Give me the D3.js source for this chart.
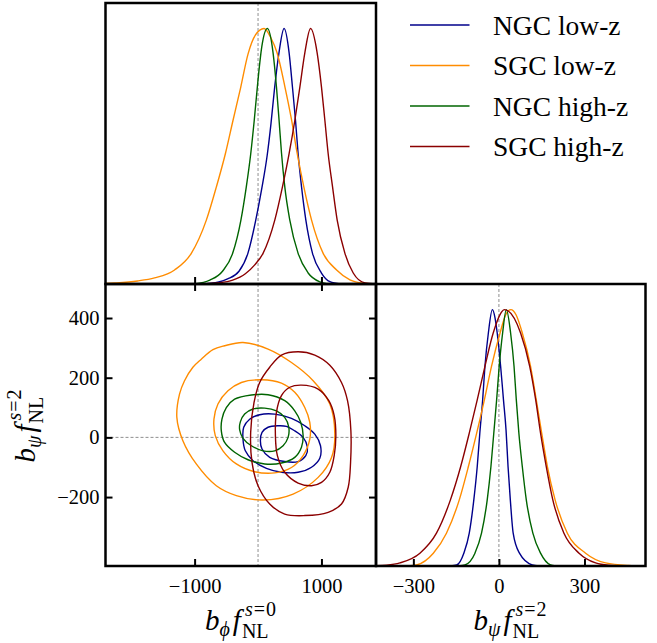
<!DOCTYPE html>
<html>
<head>
<meta charset="utf-8">
<script src="https://cdn.jsdelivr.net/npm/d3@7"></script>
<style>
  html, body { margin: 0; padding: 0; background: #fff; }
  svg { display: block; font-family: "Liberation Serif", "DejaVu Serif", serif; }
  svg text { font-family: "Liberation Serif", "DejaVu Serif", serif; }
</style>
</head>
<body>
<svg id="chart" width="657" height="643"></svg>
<script>
// ---- samples ---------------------------------------------------------------
const seriesNames = ["NGC low-z", "SGC low-z", "NGC high-z", "SGC high-z"];
const seriesColors = ["#00008b", "#ff8c00", "#006400", "#8b0000"];

// parameter ranges shown on the axes
const phiRange = [-2405, 1860];
const psiRange = [-431, 514];

// tick values and labels
const phiTicks = [-1000, 1000];
const phiTickLabels = ["\u22121000", "1000"];
const psiTicksY = [-200, 0, 200, 400];
const psiTickLabelsY = ["\u2212200", "0", "200", "400"];
const psiTicksX = [-300, 0, 300];
const psiTickLabelsX = ["\u2212300", "0", "300"];

// 1D marginals of b_phi f_NL^{s=0}: [value, density / peak]
const phiNGClow = [[-900,0],[-620,0.008],[-480,0.02],[-300,0.05],[-160,0.12],[-40,0.245],[60,0.375],[145,0.505],[205,0.63],[260,0.765],[330,0.905],[411,1.0],[490,0.905],[543,0.77],[591,0.64],[632,0.51],[686,0.38],[754,0.25],[859,0.12],[1000,0.043],[1133,0.009],[1300,0]];
const phiSGClow = [[-2405,0.002],[-2264,0.004],[-1900,0.012],[-1632,0.024],[-1316,0.055],[-1052,0.12],[-815,0.25],[-657,0.38],[-515,0.51],[-395,0.64],[-273,0.77],[-158,0.9],[-40,0.975],[95,1.0],[200,0.965],[300,0.905],[422,0.774],[528,0.643],[616,0.513],[722,0.38],[844,0.25],[1027,0.12],[1239,0.055],[1449,0.016],[1654,0.003],[1860,0]];
const phiNGChigh = [[-1000,0],[-760,0.015],[-560,0.05],[-400,0.12],[-270,0.25],[-185,0.38],[-115,0.51],[-60,0.64],[0,0.8],[60,0.93],[148,1.0],[237,0.905],[291,0.77],[332,0.64],[370,0.513],[422,0.38],[501,0.25],[632,0.12],[790,0.043],[975,0.008],[1100,0]];
const phiSGChigh = [[-900,0],[-640,0.004],[-400,0.015],[-200,0.04],[-52,0.075],[79,0.12],[264,0.25],[385,0.38],[490,0.51],[580,0.64],[659,0.77],[738,0.905],[828,1.0],[932,0.905],[1001,0.77],[1054,0.64],[1106,0.51],[1175,0.38],[1248,0.25],[1370,0.12],[1501,0.043],[1686,0.004],[1860,0]];

// 1D marginals of b_psi f_NL^{s=2}: [value, density / peak]
const psiNGClow = [[-170,0],[-148,0.004],[-123,0.05],[-104,0.128],[-88,0.258],[-76,0.388],[-67,0.518],[-57,0.648],[-49,0.779],[-37,0.909],[-23,1.0],[-14,0.97],[-6,0.909],[6,0.779],[16,0.648],[25,0.53],[32,0.388],[40,0.258],[50,0.128],[72,0.05],[117,0.004],[140,0]];
const psiSGClow = [[-320,0],[-289,0.004],[-230,0.05],[-184,0.128],[-139,0.258],[-107,0.388],[-78,0.518],[-51,0.648],[-26,0.779],[4,0.909],[22,0.975],[42,1.0],[60,0.98],[82,0.909],[111,0.779],[131,0.648],[150,0.518],[170,0.388],[197,0.258],[240,0.128],[304,0.05],[374,0.012],[455,0.002],[514,0]];
const psiNGChigh = [[-140,0],[-119,0.004],[-84,0.05],[-61,0.128],[-41,0.258],[-28,0.388],[-18,0.518],[-8,0.648],[1,0.779],[13,0.909],[26,1.0],[41,0.909],[53,0.779],[61,0.648],[70,0.518],[82,0.388],[96,0.258],[119,0.128],[146,0.05],[181,0.004],[200,0]];
const psiSGChigh = [[-431,0.001],[-394,0.003],[-347,0.012],[-277,0.05],[-219,0.128],[-170,0.258],[-134,0.388],[-104,0.518],[-76,0.648],[-49,0.779],[-20,0.909],[20,1.0],[76,0.909],[108,0.779],[129,0.648],[146,0.518],[166,0.388],[189,0.258],[228,0.128],[281,0.05],[339,0.012],[385,0.003],[450,0]];

// 2D credible contours: [b_phi f_NL^{s=0}, b_psi f_NL^{s=2}]
const contNGClow68 = [[316,39],[158,34],[63,17],[37,-11],[63,-39],[184,-67],[421,-81],[632,-81],[753,-61],[779,-33],[711,0],[579,22],[448,37]];
const contNGClow95 = [[263,78],[26,76],[-132,61],[-226,34],[-237,-6],[-200,-45],[-79,-78],[132,-104],[369,-117],[632,-117],[843,-100],[974,-70],[985,-28],[895,11],[737,39],[527,64]];
const contSGClow68 = [[53,193],[-263,184],[-474,156],[-632,112],[-695,61],[-674,6],[-553,-45],[-342,-89],[-53,-115],[263,-119],[527,-101],[711,-61],[816,-6],[816,50],[737,100],[579,151],[369,182]];
const contSGClow95 = [[-237,318],[-527,307],[-711,294],[-895,262],[-1027,235],[-1159,190],[-1238,145],[-1280,67],[-1185,-11],[-974,-89],[-658,-162],[-342,-195],[79,-210],[553,-190],[948,-134],[1159,-67],[1211,11],[1132,112],[869,190],[527,251],[158,296]];
const contNGChigh68 = [[105,98],[-79,95],[-211,78],[-279,52],[-290,26],[-237,-3],[-105,-28],[79,-45],[263,-45],[395,-28],[474,0],[485,34],[421,67],[290,89]];
const contNGChigh95 = [[158,143],[-105,142],[-369,128],[-500,100],[-569,61],[-579,22],[-527,-17],[-369,-50],[-158,-75],[105,-89],[369,-86],[579,-67],[685,-33],[711,6],[674,50],[579,89],[421,123]];
const contSGChigh68 = [[685,175],[500,168],[369,140],[290,84],[274,6],[305,-61],[421,-117],[632,-153],[843,-162],[1001,-151],[1132,-117],[1201,-61],[1227,6],[1201,73],[1116,123],[948,162]];
const contSGChigh95 = [[632,287],[369,276],[184,235],[26,184],[-63,117],[-116,17],[-95,-84],[0,-162],[184,-223],[421,-257],[737,-262],[1106,-251],[1316,-223],[1422,-167],[1459,-84],[1464,22],[1411,123],[1316,184],[1132,242],[895,276]];

const phiMarginals = [phiNGClow, phiSGClow, phiNGChigh, phiSGChigh];
const psiMarginals = [psiNGClow, psiSGClow, psiNGChigh, psiSGChigh];
const contours = [
  [contNGClow68, contNGClow95],
  [contSGClow68, contSGClow95],
  [contNGChigh68, contNGChigh95],
  [contSGChigh68, contSGChigh95]
];

// ---- layout ----------------------------------------------------------------
const colL = 105.5, colM = 376, colR = 645.5;
const rowT = 3, rowM = 284, rowB = 566;
const tickLen = 7;
const serif = "'Liberation Serif','DejaVu Serif',serif";

const svg = d3.select("#chart");

const xPhi = d3.scaleLinear().domain(phiRange).range([colL, colM]);
const yPsi = d3.scaleLinear().domain(psiRange).range([rowB, rowM]);
const xPsi = d3.scaleLinear().domain(psiRange).range([colM, colR]);
const yDensTop = d3.scaleLinear().domain([0, 1.1]).range([rowM, rowT]);
const yDensBR = d3.scaleLinear().domain([0, 1.1]).range([rowB, rowM]);

const defs = svg.append("defs");
function clip(id, x0, y0, x1, y1) {
  defs.append("clipPath").attr("id", id)
    .append("rect").attr("x", x0).attr("y", y0).attr("width", x1 - x0).attr("height", y1 - y0);
  return `url(#${id})`;
}
const clipTL = clip("clipTL", colL, rowT, colM, rowM);
const clipBL = clip("clipBL", colL, rowM, colM, rowB);
const clipBR = clip("clipBR", colM, rowM, colR, rowB);

// zero reference lines
const dashStyle = g => g.attr("stroke", "#8f8f8f").attr("stroke-width", 1).attr("stroke-dasharray", "3,2").attr("fill", "none");
svg.append("line").attr("x1", xPhi(0)).attr("x2", xPhi(0)).attr("y1", rowT).attr("y2", rowM).call(dashStyle);
svg.append("line").attr("x1", xPhi(0)).attr("x2", xPhi(0)).attr("y1", rowM).attr("y2", rowB).call(dashStyle);
svg.append("line").attr("x1", colL).attr("x2", colM).attr("y1", yPsi(0)).attr("y2", yPsi(0)).call(dashStyle);
svg.append("line").attr("x1", xPsi(0)).attr("x2", xPsi(0)).attr("y1", rowM).attr("y2", rowB).call(dashStyle);

// marginal curves
const linePhi = d3.line().x(d => xPhi(d[0])).y(d => yDensTop(d[1])).curve(d3.curveMonotoneX);
const linePsi = d3.line().x(d => xPsi(d[0])).y(d => yDensBR(d[1])).curve(d3.curveMonotoneX);
svg.append("g").attr("clip-path", clipTL).selectAll("path").data(phiMarginals).join("path")
  .attr("d", linePhi).attr("fill", "none").attr("stroke", (d, i) => seriesColors[i]).attr("stroke-width", 1.4);
svg.append("g").attr("clip-path", clipBR).selectAll("path").data(psiMarginals).join("path")
  .attr("d", linePsi).attr("fill", "none").attr("stroke", (d, i) => seriesColors[i]).attr("stroke-width", 1.4);

// joint contours
const contourLine = d3.line().x(d => xPhi(d[0])).y(d => yPsi(d[1])).curve(d3.curveCatmullRomClosed.alpha(0.5));
const gC = svg.append("g").attr("clip-path", clipBL);
contours.forEach((levels, i) => {
  gC.selectAll(null).data(levels).join("path")
    .attr("d", contourLine).attr("fill", "none").attr("stroke", seriesColors[i]).attr("stroke-width", 1.4);
});

// axes with inward ticks
function styleAxis(g) {
  g.attr("font-family", serif);
  g.select(".domain").remove();
  g.selectAll(".tick line").attr("stroke", "#000").attr("stroke-width", 2);
  g.selectAll(".tick text").attr("fill", "#000").attr("font-size", 20.5).style("font-family", serif);
}
const noLabels = () => "";

svg.append("g").attr("transform", `translate(0,${rowM})`)
  .call(d3.axisBottom(xPhi).tickValues(phiTicks).tickSize(-tickLen).tickFormat(noLabels)).call(styleAxis);
svg.append("g").attr("transform", `translate(0,${rowM})`)
  .call(d3.axisTop(xPhi).tickValues(phiTicks).tickSize(-tickLen).tickFormat(noLabels)).call(styleAxis);
svg.append("g").attr("transform", `translate(0,${rowB})`)
  .call(d3.axisBottom(xPhi).tickValues(phiTicks).tickSize(-tickLen).tickPadding(12)
    .tickFormat((d, i) => phiTickLabels[i])).call(styleAxis);
svg.append("g").attr("transform", `translate(${colL},0)`)
  .call(d3.axisLeft(yPsi).tickValues(psiTicksY).tickSize(-tickLen).tickPadding(6)
    .tickFormat((d, i) => psiTickLabelsY[i])).call(styleAxis);
svg.append("g").attr("transform", `translate(${colM},0)`)
  .call(d3.axisRight(yPsi).tickValues(psiTicksY).tickSize(-tickLen).tickFormat(noLabels)).call(styleAxis);
svg.append("g").attr("transform", `translate(0,${rowB})`)
  .call(d3.axisBottom(xPsi).tickValues(psiTicksX).tickSize(-tickLen).tickPadding(12)
    .tickFormat((d, i) => psiTickLabelsX[i])).call(styleAxis);

// panel frames
const frame = (x0, y0, x1, y1) => svg.append("rect").attr("x", x0).attr("y", y0)
  .attr("width", x1 - x0).attr("height", y1 - y0)
  .attr("fill", "none").attr("stroke", "#000").attr("stroke-width", 2.5);
frame(colL, rowT, colM, rowM);
frame(colL, rowM, colM, rowB);
frame(colM, rowM, colR, rowB);

// legend
const legendX0 = 410, legendX1 = 469.5, legendY0 = 25, legendStep = 40.5;
const leg = svg.append("g");
seriesNames.forEach((name, i) => {
  const y = legendY0 + i * legendStep;
  leg.append("line").attr("x1", legendX0).attr("x2", legendX1).attr("y1", y).attr("y2", y)
    .attr("stroke", seriesColors[i]).attr("stroke-width", 1.4);
  leg.append("text").attr("x", 493).attr("y", y + 9.5).attr("font-size", 27.5)
    .style("font-family", serif).attr("fill", "#000").text(name);
});

// math axis titles built from pieces
function mathLabel(parent, parts) {
  const g = parent.append("g");
  let x = 0, maxX = 0;
  const marks = {};
  parts.forEach(p => {
    if (p.from) x = marks[p.from];
    const px = x + (p.dx || 0);
    const t = g.append("text").attr("x", px).attr("y", p.dy || 0)
      .attr("font-size", p.size).attr("font-style", p.it ? "italic" : "normal")
      .style("font-family", serif).attr("fill", "#000").text(p.t);
    if (p.mark) marks[p.mark] = px;
    x = px + t.node().getComputedTextLength();
    maxX = Math.max(maxX, x);
  });
  g.attr("transform", `translate(${-maxX / 2},0)`);
  return g;
}
const titlePieces = (sub, sup) => [
  { t: "b", it: true, size: 29 },
  { t: sub, it: true, size: 20, dy: 6 },
  { t: "f", it: true, size: 29, dx: 3 },
  { t: "s", it: true, size: 20, dy: -14.5, dx: 4, mark: "s" },
  { t: "=", size: 20, dy: -14.5, dx: 1 },
  { t: sup, size: 20, dy: -14.5, dx: 1 },
  { t: "NL", size: 20, dy: 8, from: "s", dx: -3 }
];
mathLabel(svg.append("g").attr("transform", "translate(240.5,630)"), titlePieces("\u03d5", "0"));
mathLabel(svg.append("g").attr("transform", "translate(510,630)"), titlePieces("\u03c8", "2"));
mathLabel(svg.append("g").attr("transform", "translate(35,426) rotate(-90)"), titlePieces("\u03c8", "2"));
</script>
</body>
</html>
